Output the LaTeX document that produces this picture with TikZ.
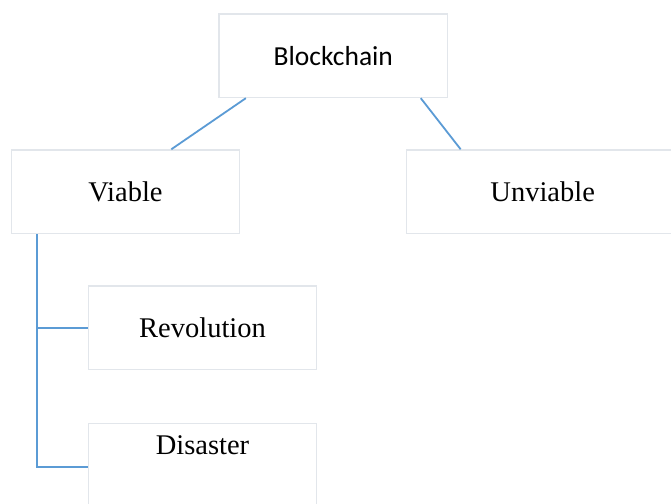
\documentclass[tikz,border=0pt]{standalone}
\usepackage{fontspec}
\setmainfont{Liberation Serif}
\newfontfamily\calibri{Carlito}
\usetikzlibrary{calc}
\definecolor{boxline}{HTML}{E2E6EB}
\definecolor{linkblue}{HTML}{5B9BD5}
\tikzset{
  box/.style={draw=boxline, line width=1.5pt, fill=white, inner sep=0pt,
    minimum height=83.5pt, font=\fontsize{28.5}{34}\selectfont},
  link/.style={draw=linkblue, line width=1.8pt},
}
\begin{document}
\begin{tikzpicture}[x=1pt,y=1pt]
  \clip (0,0) rectangle (671,503);
  \fill[white] (0,0) rectangle (671,503);

  % boxes
  \node[box, minimum width=228.7pt, font=\calibri\fontsize{27.5}{33}\selectfont] (bc) at (333.3,447.3) {Blockchain};
  \node[box, minimum width=227.6pt] (viable) at (125.5,311.2) {Viable};
  \node[box, minimum width=272pt] (unviable) at (542.7,311.2) {Unviable};
  \node[box, minimum width=228.4pt] (rev) at (202.5,175) {Revolution};
  \node[box, minimum width=228.4pt, minimum height=87pt] (dis) at (202.5,36) {};
  \node[anchor=base, inner sep=0pt, font=\fontsize{28.5}{34}\selectfont] (distext)
    at ([yshift=-32pt]dis.north) {Disaster};

  % connectors
  \draw[link] ($(bc.south west)!0.12!(bc.south east)$) -- ($(viable.north west)!0.7!(viable.north east)$);
  \draw[link] ($(bc.south west)!0.88!(bc.south east)$) -- ($(unviable.north west)!0.2!(unviable.north east)$);
  \coordinate (trunk) at ($(viable.south west)!0.115!(viable.south east)$);
  \draw[link] (trunk) |- (dis.west);
  \draw[link] (trunk |- rev.west) -- (rev.west);
\end{tikzpicture}
\end{document}
